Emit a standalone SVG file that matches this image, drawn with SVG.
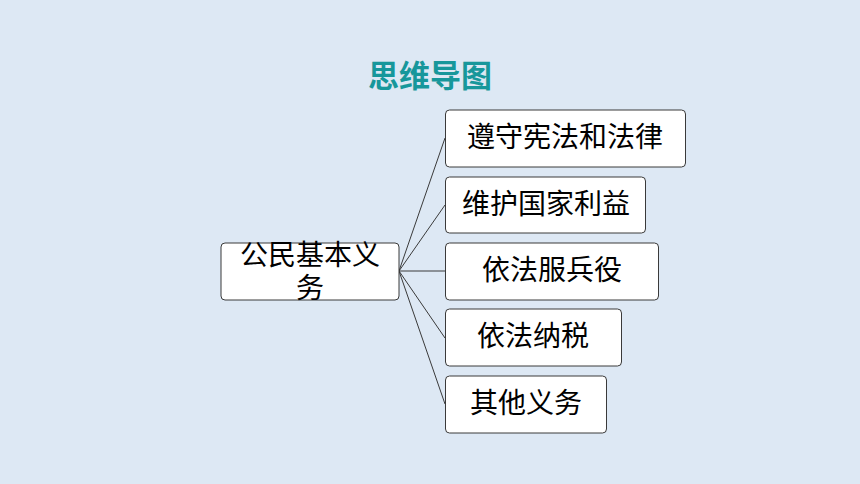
<svg xmlns="http://www.w3.org/2000/svg" width="860" height="484" viewBox="0 0 860 484">
<style>
.box{fill:#ffffff;stroke:#3a3a3a;stroke-width:1}
.t{font-family:"Liberation Sans","Noto Sans CJK SC",sans-serif;font-size:28px;fill:#000000;text-anchor:middle;dominant-baseline:central}
.c{stroke:#3a3a3a;stroke-width:1;fill:none}
</style>
<rect width="860" height="484" fill="#dde8f4"/>
<text x="430" y="73" font-family="'Noto Sans CJK SC',sans-serif" font-size="31" font-weight="bold" fill="#17979b" text-anchor="middle" dominant-baseline="central">思维导图</text>
<g id="connectors">
<path class="c" d="M399,271 L445,138"/>
<path class="c" d="M399,271 L445,205"/>
<path class="c" d="M399,271 L445,271"/>
<path class="c" d="M399,271 L445,338"/>
<path class="c" d="M399,271 L445,404"/>
</g>
<g id="root">
<rect class="box" x="221" y="243" width="178" height="57" rx="4"/>
<text class="t" x="310" y="255">公民基本义</text>
<text class="t" x="310" y="288">务</text>
</g>
<g id="n1">
<rect class="box" x="445.5" y="110" width="240" height="57" rx="4"/>
<text class="t" x="565" y="137">遵守宪法和法律</text>
</g>
<g id="n2">
<rect class="box" x="445.5" y="177" width="200" height="56" rx="4"/>
<text class="t" x="546" y="204">维护国家利益</text>
</g>
<g id="n3">
<rect class="box" x="445.5" y="243" width="213" height="57" rx="4"/>
<text class="t" x="552" y="270">依法服兵役</text>
</g>
<g id="n4">
<rect class="box" x="445.5" y="309" width="176" height="57" rx="4"/>
<text class="t" x="533" y="336">依法纳税</text>
</g>
<g id="n5">
<rect class="box" x="445.5" y="376" width="161" height="57" rx="4"/>
<text class="t" x="526" y="403">其他义务</text>
</g>
</svg>
